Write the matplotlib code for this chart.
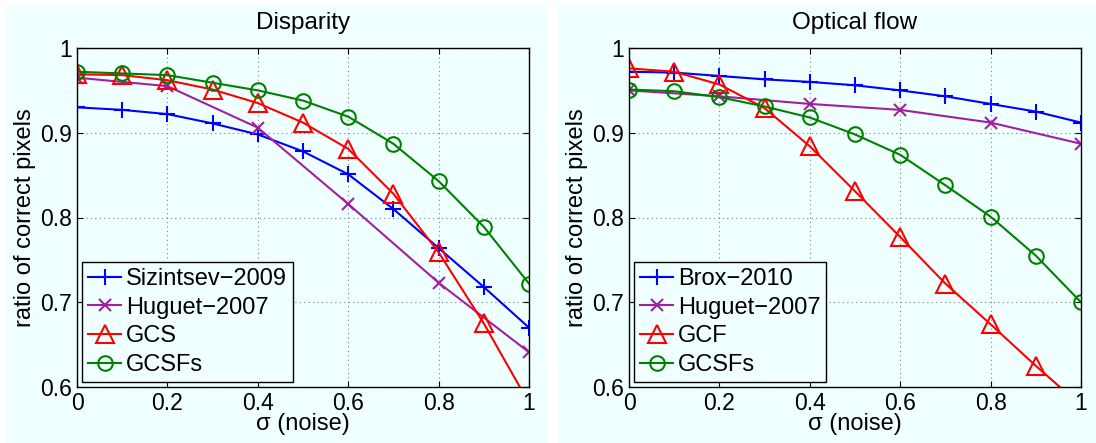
import matplotlib
matplotlib.use("Agg")
import matplotlib.pyplot as plt
from matplotlib.patches import Rectangle

plt.rcParams['font.family'] = ['Liberation Sans', 'DejaVu Sans']

sigma = [0.0, 0.1, 0.2, 0.3, 0.4, 0.5, 0.6, 0.7, 0.8, 0.9, 1.0]
sigma_even = [0.0, 0.2, 0.4, 0.6, 0.8, 1.0]

# Disparity
disp_sizintsev = [0.930, 0.927, 0.922, 0.911, 0.898, 0.878, 0.851, 0.810, 0.764, 0.718, 0.670]
disp_huguet = [0.965, 0.955, 0.906, 0.816, 0.723, 0.641]
disp_gcs = [0.969, 0.968, 0.962, 0.951, 0.935, 0.912, 0.881, 0.828, 0.759, 0.675, 0.581]
disp_gcsfs = [0.972, 0.970, 0.968, 0.959, 0.950, 0.938, 0.919, 0.887, 0.843, 0.789, 0.722]

# Optical flow
of_brox = [0.972, 0.971, 0.967, 0.963, 0.960, 0.956, 0.950, 0.943, 0.934, 0.925, 0.912]
of_huguet = [0.950, 0.943, 0.934, 0.927, 0.912, 0.887]
of_gcf = [0.976, 0.972, 0.957, 0.929, 0.884, 0.831, 0.777, 0.722, 0.674, 0.625, 0.578]
of_gcsfs = [0.951, 0.949, 0.942, 0.931, 0.918, 0.898, 0.874, 0.838, 0.801, 0.755, 0.700]

titles = ["Disparity", "Optical flow"]
xticks = [0, 0.2, 0.4, 0.6, 0.8, 1.0]
xticklabels = ["0", "0.2", "0.4", "0.6", "0.8", "1"]
yticks = [0.6, 0.7, 0.8, 0.9, 1.0]
yticklabels = ["0.6", "0.7", "0.8", "0.9", "1"]

BG = "#F0FFFF"
BLUE = "#0000FF"
PURPLE = "#A020A0"
RED = "#FF0000"
GREEN = "#008000"

fig = plt.figure(figsize=(10.96, 4.43), dpi=100, facecolor="white")
W, H = 1096, 443
# cyan panel backgrounds
fig.patches.append(Rectangle((6 / W, 0), (548 - 6) / W, (443 - 5) / H,
                             transform=fig.transFigure, facecolor=BG, edgecolor="none", zorder=-10))
fig.patches.append(Rectangle((558 / W, 0), (1096 - 558) / W, (443 - 5) / H,
                             transform=fig.transFigure, facecolor=BG, edgecolor="none", zorder=-10))

panels = [
    (77, [("Sizintsev\u22122009", sigma, disp_sizintsev, BLUE, "+", 12, 1.5),
          ("Huguet\u22122007", sigma_even, disp_huguet, PURPLE, "x", 9, 1.5),
          ("GCS", sigma, disp_gcs, RED, "^", 12.5, 1.5),
          ("GCSFs", sigma, disp_gcsfs, GREEN, "o", 10.5, 1.5)]),
    (629, [("Brox\u22122010", sigma, of_brox, BLUE, "+", 12, 1.5),
           ("Huguet\u22122007", sigma_even, of_huguet, PURPLE, "x", 9, 1.5),
           ("GCF", sigma, of_gcf, RED, "^", 12.5, 1.5),
           ("GCSFs", sigma, of_gcsfs, GREEN, "o", 10.5, 1.5)]),
]

for (x0, series), title in zip(panels, titles):
    ax = fig.add_axes([x0 / W, (443 - 387) / H, 452 / W, 339 / H])
    ax.set_facecolor(BG)
    for label, xs, ys, col, mk, ms, mew in series:
        ax.plot(xs, ys, color=col, marker=mk, markersize=ms, markeredgewidth=mew,
                markerfacecolor="none", linewidth=1.5, label=label, clip_on=True)
    ax.set_xlim(0, 1)
    ax.set_ylim(0.6, 1.0)
    ax.set_xticks(xticks)
    ax.set_xticklabels(xticklabels)
    ax.set_yticks(yticks)
    ax.set_yticklabels(yticklabels)
    ax.tick_params(direction="in", length=4, width=0.8, labelsize=16.5,
                   top=True, right=True, pad=3.5)
    ax.grid(True, color="#808080", linestyle=(0, (1, 3)), linewidth=0.8)
    for s in ax.spines.values():
        s.set_linewidth(1.0)
        s.set_color("black")
    ax.set_title(title, fontsize=17.5, pad=14)
    ax.set_xlabel("\u03c3 (noise)", fontsize=17, labelpad=-1)
    ax.set_ylabel("ratio of correct pixels", fontsize=17, labelpad=3)
    leg = ax.legend(loc="lower left", fontsize=17, handlelength=1.4, handletextpad=0.2,
                    labelspacing=0.28, borderpad=0.25, borderaxespad=0.22, fancybox=False,
                    framealpha=1.0, facecolor=BG, edgecolor="black")
    leg.get_frame().set_linewidth(1.0)

fig.savefig("out.png", dpi=100, facecolor="white")
